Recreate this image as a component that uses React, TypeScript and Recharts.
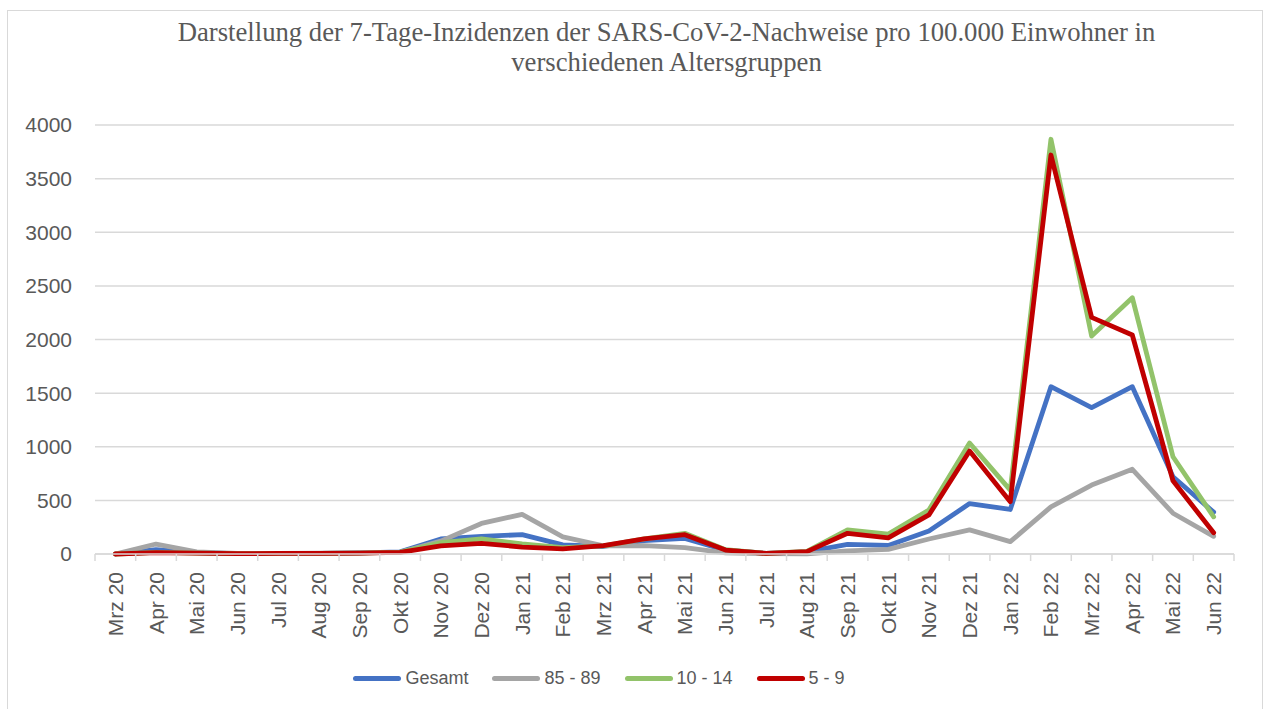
import React from 'react'
import { LineChart, Line, XAxis, YAxis, CartesianGrid, Legend } from 'recharts'

const months = [
  'Mrz 20', 'Apr 20', 'Mai 20', 'Jun 20', 'Jul 20', 'Aug 20', 'Sep 20', 'Okt 20', 'Nov 20', 'Dez 20',
  'Jan 21', 'Feb 21', 'Mrz 21', 'Apr 21', 'Mai 21', 'Jun 21', 'Jul 21', 'Aug 21', 'Sep 21', 'Okt 21',
  'Nov 21', 'Dez 21', 'Jan 22', 'Feb 22', 'Mrz 22', 'Apr 22', 'Mai 22', 'Jun 22',
]
const gesamt = [2, 40, 12, 4, 5, 6, 10, 20, 140, 165, 180, 85, 70, 125, 146, 35, 6, 20, 90, 80, 214, 470, 415, 1560, 1365, 1560, 720, 390]
const age85to89 = [0, 93, 20, 5, 5, 8, 10, 15, 120, 285, 370, 160, 75, 78, 60, 10, 3, 2, 30, 43, 140, 225, 115, 440, 643, 790, 380, 165]
const age10to14 = [0, 15, 8, 3, 5, 6, 8, 18, 105, 140, 95, 60, 75, 140, 193, 40, 5, 25, 225, 186, 410, 1035, 596, 3867, 2032, 2390, 907, 347]
const age5to9 = [0, 12, 8, 3, 5, 5, 8, 15, 75, 100, 65, 48, 78, 140, 180, 37, 5, 22, 193, 150, 364, 960, 488, 3720, 2206, 2042, 683, 198]
const yTicks = [0, 500, 1000, 1500, 2000, 2500, 3000, 3500, 4000]

const series = [
  { key: 'gesamt', name: 'Gesamt', color: '#4472C4', values: gesamt },
  { key: 'a85', name: '85 - 89', color: '#A5A5A5', values: age85to89 },
  { key: 'a10', name: '10 - 14', color: '#92C36A', values: age10to14 },
  { key: 'a5', name: '5 - 9', color: '#C00000', values: age5to9 },
]

const data = months.map((m, i) => {
  const row: Record<string, string | number> = { month: m }
  series.forEach((s) => { row[s.key] = s.values[i] })
  return row
})

const W = 1263
const H = 709
const PLOT_LEFT = 95
const PLOT_RIGHT = 1234
const PLOT_TOP = 125
const PLOT_BOTTOM = 554
const LEGEND_H = 36
const BAND = (PLOT_RIGHT - PLOT_LEFT) / months.length
const TEXT = '#595959'
const SANS = '"Liberation Sans", Arial, sans-serif'

// Excel-style category axis: ticks between categories, labels rotated
const MonthTick = (props: any) => {
  const { x, y, payload, index } = props
  return (
    <g>
      <line x1={x - BAND / 2} y1={y} x2={x - BAND / 2} y2={y + 7} stroke="#d9d9d9" strokeWidth={1.5} />
      {index === months.length - 1 && (
        <line x1={x + BAND / 2} y1={y} x2={x + BAND / 2} y2={y + 7} stroke="#d9d9d9" strokeWidth={1.5} />
      )}
      <text
        transform={`translate(${x},${y + 18}) rotate(-90)`}
        textAnchor="end"
        dominantBaseline="central"
        fill={TEXT}
        fontSize={21}
        fontFamily={SANS}
      >
        {payload.value}
      </text>
    </g>
  )
}

const renderLegend = () => (
  <div
    style={{
      display: 'flex', justifyContent: 'center', alignItems: 'center',
      height: LEGEND_H, paddingRight: 36, fontFamily: SANS,
    }}
  >
    {series.map((s) => (
      <div key={s.key} style={{ display: 'flex', alignItems: 'center', margin: '0 12px' }}>
        <span style={{ display: 'inline-block', width: 48, height: 5, borderRadius: 3, background: s.color, marginRight: 4 }} />
        <span style={{ fontSize: 18, color: TEXT }}>{s.name}</span>
      </div>
    ))}
  </div>
)

export default function App() {
  return (
    <div style={{ position: 'absolute', left: 0, top: 0, width: W, height: H, overflow: 'hidden', background: '#fff' }}>
      <div style={{ position: 'absolute', left: 7, top: 10, width: 1254, height: 720, border: '1.5px solid #d9d9d9' }} />
      <div
        style={{
          position: 'absolute', left: 0, top: 17, width: 1333, textAlign: 'center',
          fontFamily: '"Liberation Serif", "Times New Roman", serif', fontSize: 26.7, lineHeight: '30px', color: TEXT,
        }}
      >
        Darstellung der 7-Tage-Inzidenzen der SARS-CoV-2-Nachweise pro 100.000 Einwohner in
        <br />
        verschiedenen Altersgruppen
      </div>
      <div style={{ position: 'absolute', left: 0, top: 0 }}>
        <LineChart
          width={W}
          height={H}
          data={data}
          margin={{ top: PLOT_TOP, right: W - PLOT_RIGHT, left: 0, bottom: 0 }}
        >
          <CartesianGrid vertical={false} stroke="#d9d9d9" strokeWidth={1.5} />
          <XAxis
            dataKey="month"
            height={H - PLOT_BOTTOM - LEGEND_H}
            interval={0}
            padding={{ left: BAND / 2, right: BAND / 2 }}
            axisLine={{ stroke: '#d9d9d9', strokeWidth: 1.5 }}
            tickLine={false}
            tickSize={0}
            tickMargin={0}
            tick={<MonthTick />}
          />
          <YAxis
            width={PLOT_LEFT}
            domain={[0, 4000]}
            ticks={yTicks}
            axisLine={false}
            tickLine={false}
            tickMargin={17}
            tick={{ fill: TEXT, fontSize: 21, fontFamily: SANS }}
          />
          <Legend verticalAlign="bottom" content={renderLegend} wrapperStyle={{ bottom: 13 }} />
          {series.map((s) => (
            <Line
              key={s.key}
              type="linear"
              dataKey={s.key}
              name={s.name}
              stroke={s.color}
              strokeWidth={4.8}
              strokeLinejoin="round"
              strokeLinecap="round"
              dot={false}
              activeDot={false}
              isAnimationActive={false}
            />
          ))}
        </LineChart>
      </div>
    </div>
  )
}
